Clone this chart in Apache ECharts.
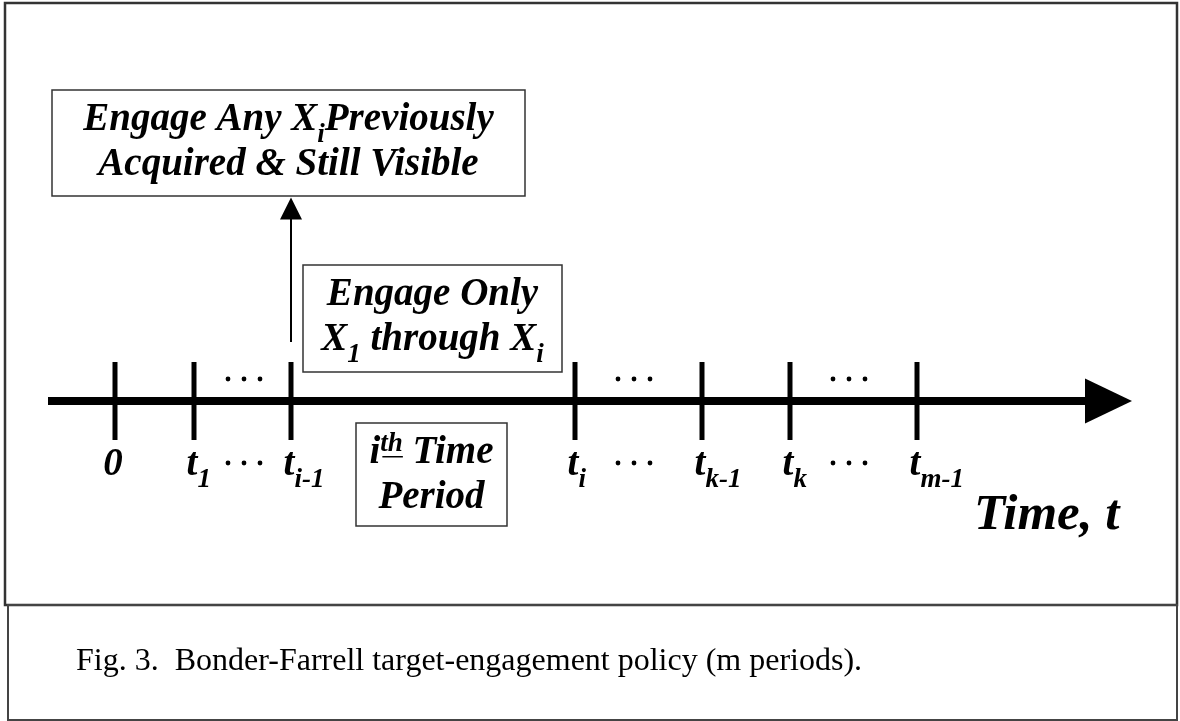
<!DOCTYPE html>
<html>
<head>
<meta charset="utf-8">
<style>
  html, body { margin: 0; padding: 0; background: #fff; }
  #chart { width: 1180px; height: 721px; }
</style>
<script src="https://cdn.jsdelivr.net/npm/echarts@6/dist/echarts.min.js"></script>
</head>
<body>
<div id="chart"></div>
<script>
// time points along the axis (diagram units, 1 unit = 1px)
const tickPositions = [115, 194, 291, 575, 702, 790, 917];
const tickNames = ['0', 't', 't', 't', 't', 't', 't'];
const tickSubs = ['', '1', 'i-1', 'i', 'k-1', 'k', 'm-1'];
// gaps that are elided with "..."
const dotPositions = [244, 634, 849];
const axisTitle = 'Time, t';
const captionText = 'Fig. 3.  Bonder-Farrell target-engagement policy (m periods).';
// box texts: each line is a list of [text, kind]
const boxAnyLines = [
  [['Engage Any X', ''], ['i', 'sub'], ['Previously', '']],
  [['Acquired & Still Visible', '']]
];
const boxOnlyLines = [
  [['Engage Only', '']],
  [['X', ''], ['1', 'sub'], [' through X', ''], ['i', 'sub']]
];
const boxPeriodLines = [
  [['i', ''], ['th', 'sup'], [' Time', '']],
  [['Period', '']]
];

const AXIS_Y = 401;
const TICK_TOP = 362;
const TICK_BOTTOM = 440;
const FONT_SIZE = 39;

const boxes = [
  { x0: 52, x1: 525, y0: 90, y1: 196, lines: boxAnyLines },
  { x0: 303, x1: 562, y0: 265, y1: 372, lines: boxOnlyLines },
  { x0: 356, x1: 507, y0: 423, y1: 526, lines: boxPeriodLines }
];

const chart = echarts.init(document.getElementById('chart'));
const measureCtx = document.createElement('canvas').getContext('2d');

function boldItalic(size) {
  return `italic bold ${size}px "Liberation Serif", "Times New Roman", serif`;
}

function textWidth(text, size) {
  measureCtx.font = boldItalic(size);
  return measureCtx.measureText(text).width;
}

function textEl(text, x, baseline, size) {
  return {
    type: 'text',
    x: x,
    y: baseline - size * 0.34,
    style: {
      text: text,
      font: boldItalic(size),
      fill: '#000',
      align: 'left',
      verticalAlign: 'middle'
    }
  };
}

// lays out one line of mixed normal / sub / sup segments
function lineElements(segments, x, baseline, size, centered) {
  const parts = segments.map(([text, kind]) => {
    const s = kind ? Math.round(size * 0.68) : size;
    return { text, kind, s, w: textWidth(text, s) };
  });
  const total = parts.reduce((sum, p) => sum + p.w, 0);
  let cursor = centered ? x - total / 2 : x;
  const els = [];
  parts.forEach((p) => {
    let shift = 0;
    if (p.kind === 'sub') shift = size * 0.3;
    if (p.kind === 'sup') shift = -size * 0.34;
    els.push(textEl(p.text, cursor, baseline + shift, p.s));
    if (p.kind === 'sup') {
      els.push({
        type: 'line',
        shape: { x1: cursor + 2, y1: baseline + shift + 4, x2: cursor + p.w, y2: baseline + shift + 4 },
        style: { stroke: '#000', lineWidth: 1.5 }
      });
    }
    cursor += p.w;
  });
  return els;
}

function renderTick(params, api) {
  const top = api.coord([api.value(0), TICK_TOP]);
  const bottom = api.coord([api.value(0), TICK_BOTTOM]);
  return {
    type: 'line',
    shape: { x1: top[0], y1: top[1], x2: bottom[0], y2: bottom[1] },
    style: { stroke: '#000', lineWidth: 5 }
  };
}

function renderTickLabel(params, api) {
  const idx = params.dataIndex;
  const p = api.coord([api.value(0), 478]);
  const mainW = textWidth(tickNames[idx], FONT_SIZE);
  const start = p[0] - mainW / 2 - 2;
  const segs = [[tickNames[idx], '']];
  if (tickSubs[idx]) segs.push([tickSubs[idx], 'sub']);
  return { type: 'group', children: lineElements(segs, start, p[1], FONT_SIZE, false) };
}

function renderDots(params, api) {
  const children = [];
  [379, 463].forEach((row) => {
    [-16, 0, 16].forEach((dx) => {
      const c = api.coord([api.value(0) + dx, row]);
      children.push({ type: 'circle', shape: { cx: c[0], cy: c[1], r: 2.4 }, style: { fill: '#000' } });
    });
  });
  return { type: 'group', children };
}

function renderBox(params, api) {
  const box = boxes[params.dataIndex];
  const tl = api.coord([box.x0, box.y0]);
  const br = api.coord([box.x1, box.y1]);
  const children = [{
    type: 'rect',
    shape: { x: tl[0], y: tl[1], width: br[0] - tl[0], height: br[1] - tl[1] },
    style: { fill: '#fff', stroke: '#333', lineWidth: 1.5 }
  }];
  const cx = (tl[0] + br[0]) / 2;
  box.lines.forEach((segs, i) => {
    const baseline = tl[1] + 43 + i * 45;
    children.push(...lineElements(segs, cx, baseline, FONT_SIZE, true));
  });
  return { type: 'group', children };
}

function renderTitle(params, api) {
  const p = api.coord([974, 533]);
  return { type: 'group', children: [textEl(axisTitle, p[0], p[1], 51)] };
}

chart.setOption({
  animation: false,
  backgroundColor: '#fff',
  grid: { left: 0, right: 0, top: 0, bottom: 0 },
  xAxis: { type: 'value', min: 0, max: 1180, show: false },
  yAxis: { type: 'value', min: 0, max: 721, inverse: true, show: false },
  graphic: [
    {
      type: 'rect',
      shape: { x: 5, y: 3, width: 1172, height: 602 },
      style: { fill: 'none', stroke: '#333', lineWidth: 2.5 }
    },
    {
      type: 'rect',
      shape: { x: 8, y: 605, width: 1169, height: 115 },
      style: { fill: 'none', stroke: '#444', lineWidth: 2 }
    },
    {
      type: 'text',
      x: 76,
      y: 672 - 32 * 0.34,
      style: {
        text: captionText,
        font: '32px "Liberation Serif", "Times New Roman", serif',
        fill: '#000',
        align: 'left',
        verticalAlign: 'middle'
      }
    }
  ],
  series: [
    {
      type: 'line',
      data: [[48, AXIS_Y], [1086, AXIS_Y]],
      symbol: 'none',
      lineStyle: { color: '#000', width: 8 },
      silent: true
    },
    {
      type: 'line',
      data: [[291, 342], [291, 218]],
      symbol: 'none',
      lineStyle: { color: '#000', width: 2 },
      silent: true
    },
    {
      type: 'scatter',
      data: [[1108.5, AXIS_Y]],
      symbol: 'triangle',
      symbolRotate: -90,
      symbolSize: [45, 47],
      itemStyle: { color: '#000', opacity: 1 },
      silent: true
    },
    {
      type: 'scatter',
      data: [[291, 208.5]],
      symbol: 'triangle',
      symbolSize: [22, 22],
      itemStyle: { color: '#000', opacity: 1 },
      silent: true
    },
    {
      type: 'custom',
      data: tickPositions.map((x) => [x]),
      renderItem: renderTick,
      silent: true
    },
    {
      type: 'custom',
      data: tickPositions.map((x) => [x]),
      renderItem: renderTickLabel,
      silent: true
    },
    {
      type: 'custom',
      data: dotPositions.map((x) => [x]),
      renderItem: renderDots,
      silent: true
    },
    {
      type: 'custom',
      data: boxes.map((b, i) => [i]),
      renderItem: renderBox,
      silent: true
    },
    {
      type: 'custom',
      data: [[974]],
      renderItem: renderTitle,
      silent: true
    }
  ]
});
</script>
</body>
</html>
